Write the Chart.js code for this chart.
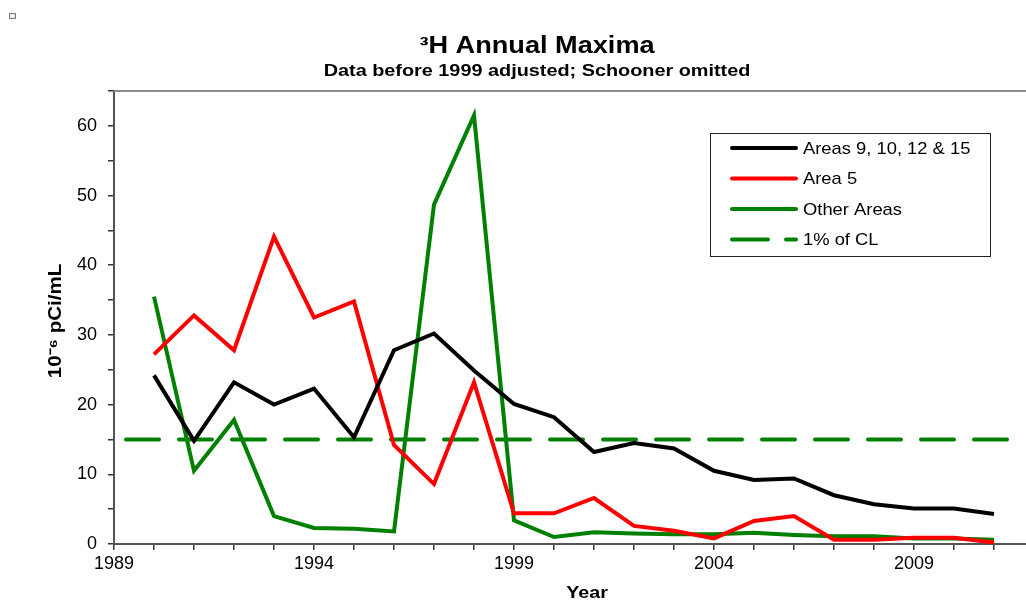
<!DOCTYPE html>
<html>
<head>
<meta charset="utf-8">
<script src="https://cdn.jsdelivr.net/npm/chart.js@4.4.1/dist/chart.umd.min.js"></script>
<style>
    html, body { margin: 0; padding: 0; background: #fff; }
    #wrap { position: relative; width: 1026px; height: 603px; }
    #mark { position: absolute; left: 9px; top: 13px; width: 5px; height: 4px; border: 1px solid #777; background: #eee; }
</style>
</head>
<body>
<div id="wrap">
    <div id="mark"></div>
    <canvas id="maxChart" width="1026" height="603"></canvas>
</div>
<script>
    // --- DATA ---
    const years = [1990, 1991, 1992, 1993, 1994, 1995, 1996, 1997, 1998, 1999, 2000,
                   2001, 2002, 2003, 2004, 2005, 2006, 2007, 2008, 2009, 2010, 2011];
    const areas9to15 = [24.2, 14.8, 23.2, 20.0, 22.3, 15.3, 27.8, 30.2, 24.9, 20.1, 18.2,
                        13.2, 14.5, 13.7, 10.5, 9.2, 9.4, 7.0, 5.7, 5.1, 5.1, 4.3];
    const area5 = [27.2, 32.8, 27.8, 44.1, 32.5, 34.8, 14.2, 8.6, 23.2, 4.4, 4.4,
                   6.6, 2.6, 1.9, 0.8, 3.3, 4.0, 0.6, 0.6, 0.9, 0.9, 0.2];
    const otherAreas = [35.5, 10.5, 17.8, 4.0, 2.3, 2.2, 1.8, 48.7, 61.5, 3.4, 1.0,
                        1.7, 1.5, 1.4, 1.4, 1.6, 1.3, 1.1, 1.1, 0.8, 0.8, 0.6];
    const clYears = [1989.3, 2011.4];
    const clValues = [15, 15];
    const xTicks = [1989, 1994, 1999, 2004, 2009];
    const yTicks = [0, 10, 20, 30, 40, 50, 60];
    const yMinorTicks = [0, 5, 10, 15, 20, 25, 30, 35, 40, 45, 50, 55, 60, 65];

    const FONT = "'Liberation Sans', Arial, sans-serif";
    const toPts = (xs, ys) => xs.map((x, i) => ({ x: x, y: ys[i] }));

    // draw text stretched sideways (the original uses a wide face)
    function wideText(c, txt, x, y, font, sx) {
        c.save();
        c.translate(x, y);
        c.scale(sx, 1);
        c.font = font;
        c.fillText(txt, 0, 0);
        c.restore();
    }

    // --- TITLES, FRAME & LEGEND (drawn on the canvas) ---
    const decorPlugin = {
        id: 'decor',
        afterDraw(chart) {
            const c = chart.ctx;
            const a = chart.chartArea;
            c.save();
            // top frame line
            c.strokeStyle = '#8c8c8c';
            c.lineWidth = 2;
            c.beginPath();
            c.moveTo(a.left, a.top);
            c.lineTo(a.right, a.top);
            c.stroke();

            c.fillStyle = '#000';
            c.textAlign = 'center';
            c.textBaseline = 'alphabetic';
            wideText(c, '\u00B3H Annual Maxima', 537, 53, 'bold 23px ' + FONT, 1.18);
            wideText(c, 'Data before 1999 adjusted; Schooner omitted', 537, 76, 'bold 16px ' + FONT, 1.24);
            // axis titles
            wideText(c, 'Year', 587, 598, 'bold 17px ' + FONT, 1.16);
            c.save();
            c.translate(61, 321);
            c.rotate(-Math.PI / 2);
            wideText(c, '10\u207B\u2076 pCi/mL', 0, 0, 'bold 18px ' + FONT, 1.14);
            c.restore();

            // legend box
            const lx = 710, ly = 133, lw = 280, lh = 123;
            c.strokeStyle = '#222';
            c.lineWidth = 1;
            c.strokeRect(lx + 0.5, ly + 0.5, lw, lh);
            c.textAlign = 'left';
            c.textBaseline = 'middle';
            chart.data.datasets.forEach((ds, i) => {
                const y = ly + 15 + i * 30.5;
                c.strokeStyle = ds.borderColor;
                c.lineWidth = 4;
                c.lineCap = 'round';
                c.setLineDash(ds.borderDash && ds.borderDash.length ? [36, 18] : []);
                c.beginPath();
                c.moveTo(732, y);
                c.lineTo(796, y);
                c.stroke();
                c.setLineDash([]);
                c.fillStyle = '#000';
                wideText(c, ds.label, 803, y + 1, '17px ' + FONT, 1.08);
            });
            c.restore();
        }
    };

    // --- CHART ---
    const ctx = document.getElementById('maxChart').getContext('2d');
    const maxChart = new Chart(ctx, {
        type: 'line',
        data: {
            datasets: [{
                label: 'Areas 9, 10, 12 & 15',
                data: toPts(years, areas9to15),
                borderColor: '#000000',
                borderWidth: 4,
                pointRadius: 0,
                tension: 0
            }, {
                label: 'Area 5',
                data: toPts(years, area5),
                borderColor: '#ff0000',
                borderWidth: 4,
                pointRadius: 0,
                tension: 0
            }, {
                label: 'Other Areas',
                data: toPts(years, otherAreas),
                borderColor: '#008000',
                borderWidth: 4,
                pointRadius: 0,
                tension: 0
            }, {
                label: '1% of CL',
                data: toPts(clYears, clValues),
                borderColor: '#008000',
                borderWidth: 4,
                borderDash: [33, 20],
                borderCapStyle: 'round',
                pointRadius: 0,
                tension: 0
            }]
        },
        options: {
            responsive: false,
            animation: false,
            clip: false,
            layout: { padding: { top: 91, right: 0, left: 0, bottom: 0 } },
            plugins: { legend: { display: false }, title: { display: false }, tooltip: { enabled: false } },
            scales: {
                x: {
                    type: 'linear',
                    min: 1989,
                    max: 2011.8,
                    afterBuildTicks: (s) => { s.ticks = [1989].concat(years).map(v => ({ value: v })); },
                    afterFit: (s) => { s.height = 59; },
                    ticks: {
                        autoSkip: false,
                        maxRotation: 0,
                        color: '#000',
                        font: { family: FONT, size: 18 },
                        padding: 3,
                        callback: (v) => xTicks.includes(v) ? String(v) : ''
                    },
                    grid: { drawOnChartArea: false, drawTicks: true, tickLength: 6, color: '#333', lineWidth: 1.5 },
                    border: { display: true, color: '#555', width: 2 }
                },
                y: {
                    min: 0,
                    max: 65,
                    afterBuildTicks: (s) => { s.ticks = yMinorTicks.map(v => ({ value: v })); },
                    afterFit: (s) => { s.width = 114; },
                    ticks: {
                        autoSkip: false,
                        color: '#000',
                        font: { family: FONT, size: 18 },
                        padding: 11,
                        callback: (v) => yTicks.includes(v) ? String(v) : ''
                    },
                    grid: { drawOnChartArea: false, drawTicks: true, tickLength: 6, color: '#333', lineWidth: 1.5 },
                    border: { display: true, color: '#555', width: 2 }
                }
            }
        },
        plugins: [decorPlugin]
    });
</script>
</body>
</html>
